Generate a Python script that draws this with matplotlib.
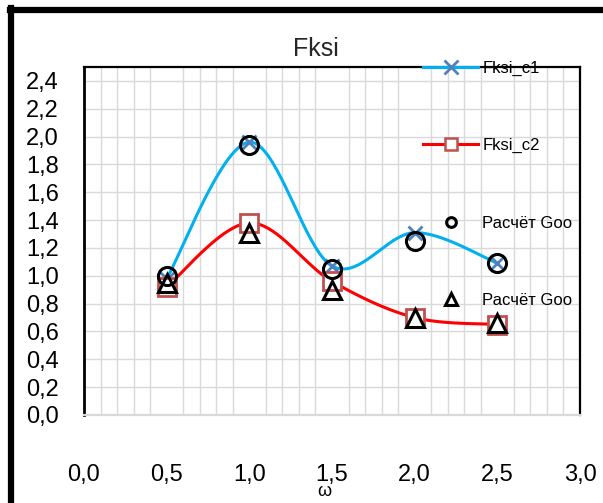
import numpy as np
import matplotlib
matplotlib.use('Agg')
import matplotlib.pyplot as plt
from matplotlib.lines import Line2D

# data
omega = [0.5, 1.0, 1.5, 2.0, 2.5]
fksi_c1 = [0.98, 1.96, 1.07, 1.31, 1.09]
fksi_c2 = [0.92, 1.38, 0.96, 0.70, 0.65]
goo_circle = [1.00, 1.94, 1.05, 1.25, 1.09]
goo_triangle = [0.95, 1.31, 0.90, 0.70, 0.66]

y_ticks = [0.0, 0.2, 0.4, 0.6, 0.8, 1.0, 1.2, 1.4, 1.6, 1.8, 2.0, 2.2, 2.4]
x_ticks = [0.0, 0.5, 1.0, 1.5, 2.0, 2.5, 3.0]

FONT = ['Liberation Sans', 'DejaVu Sans']


def smooth(xs, ys, n=40):
    """Excel-like smoothed line: cubic Bezier segments, Catmull-Rom controls."""
    p = np.column_stack([xs, ys]).astype(float)
    p_ext = np.vstack([p[0], p, p[-1]])
    out = []
    for i in range(1, len(p_ext) - 2):
        p0, p1, p2, p3 = p_ext[i - 1], p_ext[i], p_ext[i + 1], p_ext[i + 2]
        c1 = p1 + (p2 - p0) / 6.0
        c2 = p2 - (p3 - p1) / 6.0
        t = np.linspace(0, 1, n)[:, None]
        seg = ((1 - t) ** 3) * p1 + 3 * ((1 - t) ** 2) * t * c1 \
            + 3 * (1 - t) * t ** 2 * c2 + t ** 3 * p2
        out.append(seg)
    pts = np.vstack(out)
    return pts[:, 0], pts[:, 1]


fig = plt.figure(figsize=(6.03, 5.03), dpi=100)
ax = fig.add_axes([84 / 603, 1 - 415 / 503, 496 / 603, 348 / 503])

sx, sy = smooth(omega, fksi_c1)
ax.plot(sx, sy, color='#00B0F0', lw=2.2, zorder=3)
ax.plot(omega, fksi_c1, ls='none', marker='x', ms=10, mew=2,
        color='#4F81BD', zorder=4)

sx, sy = smooth(omega, fksi_c2)
ax.plot(sx, sy, color='#FF0000', lw=2.2, zorder=3)
ax.plot(omega, fksi_c2, ls='none', marker='s', ms=13, mew=2,
        mec='#C0504D', mfc='white', zorder=4)

ax.plot(omega, goo_circle, ls='none', marker='o', ms=13, mew=2.2,
        mec='black', mfc='none', zorder=5)
ax.plot(omega, goo_triangle, ls='none', marker='^', ms=13, mew=2.2,
        mec='black', mfc='none', zorder=6)

ax.set_xlim(0, 3.0)
ax.set_ylim(0, 2.5)
ax.set_yticks(y_ticks)
ax.set_yticklabels([f'{v:.1f}'.replace('.', ',') for v in y_ticks],
                   family=FONT, fontsize=17)
ax.set_xticks(x_ticks)
ax.set_xticklabels([f'{v:.1f}'.replace('.', ',') for v in x_ticks],
                   family=FONT, fontsize=17)
ax.set_xticks(np.arange(0, 3.01, 0.1), minor=True)
ax.tick_params(axis='both', which='both', length=0)
ax.tick_params(axis='x', pad=35)
ax.tick_params(axis='y', pad=18)
ax.grid(True, axis='x', which='minor', color='#D9D9D9', lw=1)
ax.grid(True, axis='y', which='major', color='#D9D9D9', lw=1)
ax.set_axisbelow(True)

ax.spines['left'].set_linewidth(2)
ax.spines['top'].set_linewidth(1.6)
ax.spines['right'].set_linewidth(1.6)
ax.spines['bottom'].set_color('#D9D9D9')
ax.spines['bottom'].set_linewidth(1.6)

# title and the odd omega label
fig.text(316 / 603, 1 - 49 / 503, 'Fksi', ha='center', va='center',
         family=FONT, fontsize=18, color='#262626')
fig.text(324 / 603, 1 - 492 / 503, 'ω', ha='center', va='center',
         family=FONT, fontsize=13)

# legend
handles = [
    Line2D([], [], color='#00B0F0', lw=2.2, marker='x', ms=10, mew=2,
           mec='#4F81BD'),
    Line2D([], [], color='#FF0000', lw=2.2, marker='s', ms=9, mew=1.8,
           mec='#C0504D', mfc='white'),
    Line2D([], [], ls='none', marker='o', ms=7, mew=2.2, mec='black',
           mfc='none'),
    Line2D([], [], ls='none', marker='^', ms=8, mew=2.2, mec='black',
           mfc='none'),
]
labels = ['Fksi_c1', 'Fksi_c2', 'Расчёт Goo', 'Расчёт Goo']
leg = fig.legend(handles, labels, loc='upper left',
                 bbox_to_anchor=(423 / 603, 1 - 61 / 503),
                 frameon=False, borderpad=0, borderaxespad=0,
                 handlelength=3.3, handletextpad=0.25, labelspacing=3.73,
                 numpoints=1, prop={'family': FONT, 'size': 12})
leg.set_zorder(10)

# outer frame of the chart area
fig.add_artist(Line2D([10 / 603, 1.0], [1 - 10 / 503, 1 - 10 / 503],
                      color='black', lw=4.5, transform=fig.transFigure))
fig.add_artist(Line2D([11 / 603, 11 / 603], [1 - 8 / 503, 0.0],
                      color='black', lw=4.5, transform=fig.transFigure))

fig.savefig('out.png', dpi=100)
